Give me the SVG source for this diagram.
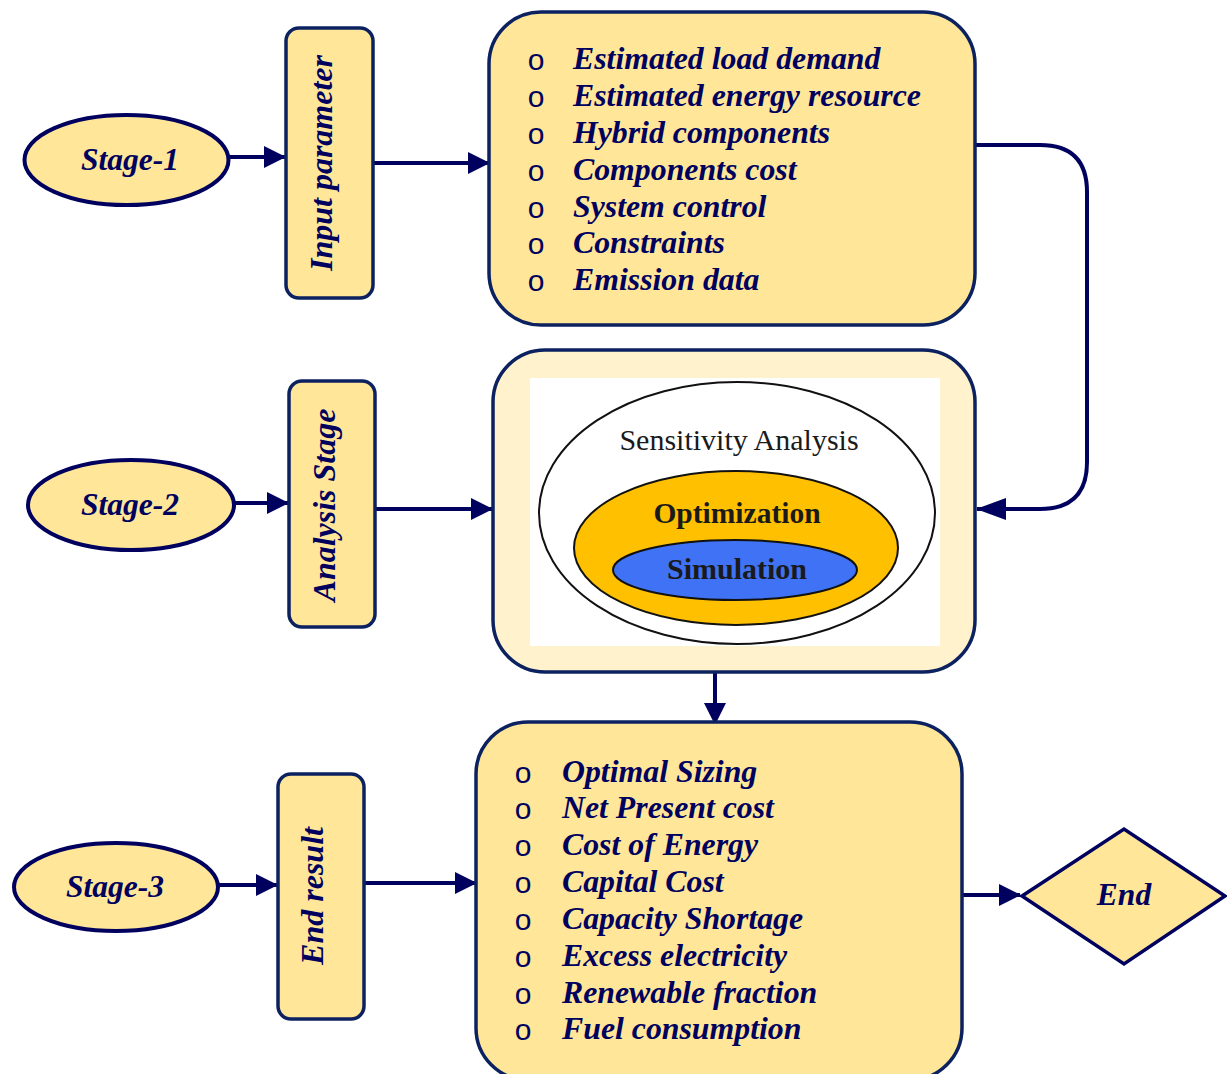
<svg xmlns="http://www.w3.org/2000/svg" width="1227" height="1074" viewBox="0 0 1227 1074">
<defs>
<style>
.box{fill:#FFE699;stroke:#0C2260;stroke-width:3.5}
.stage{fill:#FFE699;stroke:#00005E;stroke-width:4}
.lbl{font-family:"Liberation Serif","Times New Roman",serif;font-weight:bold;font-style:italic;font-size:31.8px;fill:#00005E}
.vl{font-family:"Liberation Serif","Times New Roman",serif;font-weight:bold;font-style:italic;font-size:32px;fill:#00005E;text-anchor:middle}
.st{font-family:"Liberation Serif","Times New Roman",serif;font-weight:bold;font-style:italic;font-size:31.5px;fill:#00005E;text-anchor:middle}
.bul{font-family:"Liberation Sans",Arial,sans-serif;font-size:30px;fill:#00005E;text-anchor:middle}
.conn{fill:none;stroke:#00005E;stroke-width:4}
</style>
<marker id="ah" markerUnits="userSpaceOnUse" markerWidth="22" markerHeight="22" refX="21" refY="11" orient="auto">
<path d="M0,0 L22,11 L0,22 z" fill="#00005E"/>
</marker>
<marker id="ah2" markerUnits="userSpaceOnUse" markerWidth="30" markerHeight="22" refX="29" refY="11" orient="auto">
<path d="M0,0 L30,11 L0,22 z" fill="#00005E"/>
</marker>
</defs>
<rect width="1227" height="1074" fill="#FFFFFF"/>

<g id="connectors">
<line class="conn" x1="229" y1="157" x2="285" y2="157" marker-end="url(#ah)"/>
<line class="conn" x1="373" y1="163" x2="489" y2="163" marker-end="url(#ah)"/>
<path class="conn" stroke-width="4.5" d="M975,145 H1040 Q1087,145 1087,192 V462 Q1087,509 1040,509 H977" marker-end="url(#ah2)"/>
<line class="conn" x1="233" y1="503" x2="288" y2="503" marker-end="url(#ah)"/>
<line class="conn" x1="371" y1="509" x2="492" y2="509" marker-end="url(#ah)"/>
<line class="conn" x1="715" y1="672" x2="715" y2="724" marker-end="url(#ah)"/>
<line class="conn" x1="218" y1="885" x2="277" y2="885" marker-end="url(#ah)"/>
<line class="conn" x1="364" y1="883" x2="476" y2="883" marker-end="url(#ah)"/>
<line class="conn" x1="962" y1="895" x2="1020" y2="895" marker-end="url(#ah)"/>
</g>

<g id="stage1">
<ellipse class="stage" cx="126.5" cy="160" rx="102" ry="45"/>
<text class="st" x="130" y="170">Stage-1</text>
</g>
<g id="input-parameter">
<rect class="box" x="286" y="28" width="87" height="270" rx="13"/>
<text class="vl" transform="translate(332,163) rotate(-90)">Input parameter</text>
</g>
<g id="inputs">
<rect class="box" x="489" y="12" width="486" height="313" rx="52"/>
<text class="bul" x="536" y="70">o</text>
<text class="bul" x="536" y="107">o</text>
<text class="bul" x="536" y="144">o</text>
<text class="bul" x="536" y="181">o</text>
<text class="bul" x="536" y="218">o</text>
<text class="bul" x="536" y="254">o</text>
<text class="bul" x="536" y="291">o</text>
<text class="lbl" x="573" y="69">Estimated load demand</text>
<text class="lbl" x="573" y="106">Estimated energy resource</text>
<text class="lbl" x="573" y="143">Hybrid components</text>
<text class="lbl" x="573" y="180">Components cost</text>
<text class="lbl" x="573" y="217">System control</text>
<text class="lbl" x="573" y="253">Constraints</text>
<text class="lbl" x="573" y="290">Emission data</text>
</g>

<g id="stage2">
<ellipse class="stage" cx="131" cy="505" rx="103" ry="45"/>
<text class="st" x="130" y="515">Stage-2</text>
</g>
<g id="analysis-stage">
<rect class="box" x="289" y="381" width="86" height="246" rx="13"/>
<text class="vl" transform="translate(335,505) rotate(-90)">Analysis Stage</text>
</g>
<g id="analysis">
<rect x="493" y="350" width="482" height="322" rx="52" fill="#FFF2CC" stroke="#0C2260" stroke-width="3.5"/>
<rect x="530" y="378" width="410" height="268" fill="#FFFFFF"/>
<ellipse cx="737" cy="513" rx="198" ry="131" fill="#FFFFFF" stroke="#111111" stroke-width="2"/>
<text x="739" y="450" text-anchor="middle" font-family="Liberation Serif, Times New Roman, serif" font-size="30" fill="#1A1A1A">Sensitivity Analysis</text>
<ellipse cx="736" cy="548" rx="162" ry="77" fill="#FFC000" stroke="#111111" stroke-width="2"/>
<text x="737" y="523" text-anchor="middle" font-family="Liberation Serif, Times New Roman, serif" font-weight="bold" font-size="29.5" fill="#1A1A1A">Optimization</text>
<ellipse cx="735" cy="570" rx="122" ry="30" fill="#3F72F4" stroke="#111111" stroke-width="2"/>
<text x="737" y="579" text-anchor="middle" font-family="Liberation Serif, Times New Roman, serif" font-weight="bold" font-size="30" fill="#1A1A1A">Simulation</text>
</g>

<g id="stage3">
<ellipse class="stage" cx="116" cy="887" rx="102" ry="44"/>
<text class="st" x="115" y="897">Stage-3</text>
</g>
<g id="end-result">
<rect class="box" x="278" y="774" width="86" height="245" rx="13"/>
<text class="vl" transform="translate(323,896) rotate(-90)">End result</text>
</g>
<g id="results">
<rect class="box" x="476" y="722" width="486" height="358" rx="52"/>
<text class="bul" x="523" y="783">o</text>
<text class="bul" x="523" y="819">o</text>
<text class="bul" x="523" y="856">o</text>
<text class="bul" x="523" y="893">o</text>
<text class="bul" x="523" y="930">o</text>
<text class="bul" x="523" y="967">o</text>
<text class="bul" x="523" y="1004">o</text>
<text class="bul" x="523" y="1040">o</text>
<text class="lbl" x="562" y="782">Optimal Sizing</text>
<text class="lbl" x="562" y="818">Net Present cost</text>
<text class="lbl" x="562" y="855">Cost of Energy</text>
<text class="lbl" x="562" y="892">Capital Cost</text>
<text class="lbl" x="562" y="929">Capacity Shortage</text>
<text class="lbl" x="562" y="966">Excess electricity</text>
<text class="lbl" x="562" y="1003">Renewable fraction</text>
<text class="lbl" x="562" y="1039">Fuel consumption</text>
</g>

<g id="end">
<polygon points="1022,896 1124,829 1225,896 1124,964" fill="#FFE699" stroke="#00005E" stroke-width="3.5"/>
<text class="st" x="1124" y="905">End</text>
</g>
</svg>
